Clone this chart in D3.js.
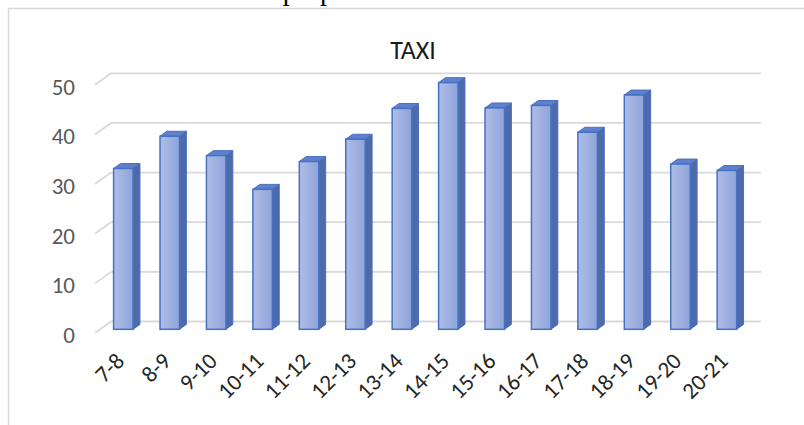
<!DOCTYPE html>
<html>
<head>
<meta charset="utf-8">
<script src="https://cdn.jsdelivr.net/npm/d3@7"></script>
<style>
  html, body { margin: 0; padding: 0; background: #fff; }
  svg { display: block; }
</style>
</head>
<body>
<svg id="chart" width="804" height="425"></svg>
<script>
const title = "TAXI";
const categories = ["7-8","8-9","9-10","10-11","11-12","12-13","13-14","14-15","15-16","16-17","17-18","18-19","19-20","20-21"];
const values = [32.4, 38.9, 35.0, 28.2, 33.8, 38.3, 44.5, 49.7, 44.6, 45.1, 39.7, 47.2, 33.3, 32.0];
const yTicks = [0, 10, 20, 30, 40, 50];
const headerText = "Parameter: base station proposal";

const svg = d3.select("#chart");
const font = "Carlito, Calibri, Lato, 'Open Sans', sans-serif";

// cut-off document text at top
svg.append("text")
  .attr("x", 16).attr("y", 0)
  .attr("font-family", "'Liberation Serif', 'Times New Roman', serif")
  .attr("font-size", 28)
  .attr("fill", "#000")
  .text(headerText);

// chart frame
svg.append("rect")
  .attr("x", 8.5).attr("y", 8.5)
  .attr("width", 820).attr("height", 430)
  .attr("fill", "#fff")
  .attr("stroke", "#d9d9d9").attr("stroke-width", 1.5);

// 3D geometry
const DX = 16, DY = -11.5;
const d0 = 0.32, d1 = 0.75;

const x = d3.scaleBand().domain(categories).range([95, 745]).paddingInner(0.58).paddingOuter(0.29);
const y = d3.scaleLinear().domain([0, 50]).range([333, 84.8]);
const bw = x.bandwidth();

// gradient for the bar front
const defs = svg.append("defs");
const grad = defs.append("linearGradient").attr("id", "front").attr("x1", 0).attr("x2", 1).attr("y1", 0).attr("y2", 0);
grad.append("stop").attr("offset", "0%").attr("stop-color", "#aebde6");
grad.append("stop").attr("offset", "100%").attr("stop-color", "#90a4da");

// back wall gridlines + slanted floor ticks
const grid = svg.append("g");
yTicks.forEach(t => {
  grid.append("line")
    .attr("x1", x.range()[0] + DX).attr("x2", x.range()[1] + DX)
    .attr("y1", y(t) + DY).attr("y2", y(t) + DY)
    .attr("stroke", "#d9d9d9").attr("stroke-width", 1.8);
  grid.append("line")
    .attr("x1", x.range()[0]).attr("x2", x.range()[0] + DX)
    .attr("y1", y(t)).attr("y2", y(t) + DY)
    .attr("stroke", "#d9d9d9").attr("stroke-width", 1.8);
});

// y axis labels
const yAxis = svg.append("g")
  .attr("transform", `translate(${x.range()[0]},2)`)
  .call(d3.axisLeft(y).tickValues(yTicks).tickSize(0).tickPadding(20));
yAxis.select(".domain").remove();
yAxis.selectAll("text")
  .attr("font-family", font).attr("font-size", 23).attr("fill", "#595959");

// bars
const bars = svg.append("g");
categories.forEach((c, i) => {
  const v = values[i];
  const xl = x(c) + DX * d0;
  const xr = xl + bw;
  const yt = y(v) + DY * d0;
  const yb = y(0) + DY * d0;
  const ddx = DX * (d1 - d0), ddy = DY * (d1 - d0);
  const g = bars.append("g");
  g.append("polygon")
    .attr("points", [[xr, yt], [xr + ddx, yt + ddy], [xr + ddx, yb + ddy], [xr, yb]].map(p => p.join(",")).join(" "))
    .attr("fill", "#4f6aab").attr("stroke", "#4a6fc0").attr("stroke-width", 1);
  g.append("polygon")
    .attr("points", [[xl, yt], [xl + ddx, yt + ddy], [xr + ddx, yt + ddy], [xr, yt]].map(p => p.join(",")).join(" "))
    .attr("fill", "#5f80cc").attr("stroke", "#4a6fc0").attr("stroke-width", 1);
  g.append("rect")
    .attr("x", xl).attr("y", yt)
    .attr("width", bw).attr("height", yb - yt)
    .attr("fill", "url(#front)")
    .attr("stroke", "#4472c4").attr("stroke-width", 1.5);
});

// x axis labels
const xAxis = svg.append("g")
  .attr("transform", `translate(${DX * d0 - 9},351)`)
  .call(d3.axisBottom(x).tickSize(0).tickPadding(0));
xAxis.select(".domain").remove();
xAxis.selectAll("text")
  .attr("font-family", font).attr("font-size", 23).attr("fill", "#262626")
  .attr("text-anchor", "end")
  .attr("dy", "0.7em")
  .attr("transform", "rotate(-45)");

// title
svg.append("text")
  .attr("x", 413).attr("y", 59)
  .attr("text-anchor", "middle")
  .attr("font-family", font).attr("font-size", 26)
  .attr("fill", "#1a1a1a")
  .text(title);
</script>
</body>
</html>
